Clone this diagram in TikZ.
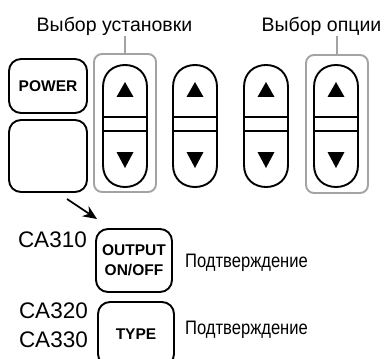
\documentclass[tikz,border=0pt]{standalone}
\usepackage{fontspec}
\setmainfont{Liberation Sans}
\newfontfamily\ingust[FakeStretch=0.85]{Liberation Sans}
\usetikzlibrary{positioning,arrows.meta,calc}
\definecolor{gri}{gray}{0.64}
\tikzset{
  buton/.style    = {draw, line width=1.9pt, rounded corners=12pt, align=center,
                     inner sep=0pt, font=\fontsize{15.5}{20}\selectfont\bfseries},
  capsula/.style  = {draw, line width=1.9pt},
  loc/.style      = {inner sep=0pt, minimum width=44pt, minimum height=122pt},
  grup/.style     = {draw=gri, line width=1.9pt, rounded corners=8pt, inner sep=0pt,
                     minimum width=62pt, minimum height=138pt},
  eticheta/.style = {font=\fontsize{19.5}{23}\selectfont, inner sep=0pt},
  confirm/.style  = {font=\ingust\fontsize{19.5}{23}\selectfont, inner sep=0pt},
  model/.style    = {font=\fontsize{22.5}{26}\selectfont, inner sep=0pt},
  sageata/.style  = {-{Stealth[length=14pt,width=12pt]}, line width=1.8pt}
}

\begin{document}
\begin{tikzpicture}[x=1pt, y=-1pt]
  \useasboundingbox (0,0) rectangle (387,358);
  \clip (0,0) rectangle (387,358);

  % butoanele din stanga
  \node[buton, minimum width=78pt, minimum height=54pt] (power) at (48,86) {POWER};
  \node[buton, minimum width=78pt, minimum height=72pt] (gol) at (48,156) {};

  % capsulele cu sageti
  \node[loc] (c1) at (125,126) {};
  \node[loc] (c2) at (195,126) {};
  \node[loc] (c3) at (266,126) {};
  \node[loc] (c4) at (336,126) {};
  \foreach \c in {c1,c2,c3,c4} {
    \draw[capsula, shift={(\c.center)}]
      (-22,0) -- (-22,-39) .. controls (-22,-53) and (-12,-61) .. (0,-61)
      .. controls (12,-61) and (22,-53) .. (22,-39) -- (22,39)
      .. controls (22,53) and (12,61) .. (0,61)
      .. controls (-12,61) and (-22,53) .. (-22,39) -- cycle;
    \draw[capsula, shift={(\c.center)}] (-22,-9) -- (22,-9) (-22,5) -- (22,5);
    \fill[shift={(\c.center)}] (-8.5,-29) -- (8.5,-29) -- (0,-44) -- cycle;
    \fill[shift={(\c.center)}] (-8.5,26) -- (8.5,26) -- (0,42) -- cycle;
  }

  % grupurile
  \node[grup] (g1) at (125,123) {};
  \node[grup] (g4) at (337,124) {};
  \node[eticheta, anchor=base] (lset) at (114.5,31.7) {Выбор установки};
  \node[eticheta, anchor=base] (lopt) at (321.5,31.7) {Выбор опции};
  \draw[gri, line width=1.9pt] (g1.north |- lset.south) -- (g1.north);
  \draw[gri, line width=1.9pt] (g4.north |- lopt.south) -- (g4.north);

  % sageata
  \coordinate (s1) at (67,199);
  \coordinate (s2) at (97,219);
  \draw[sageata] (s1) -- (s2);

  % butoanele de jos
  \node[buton, minimum width=76pt, minimum height=63pt] (out) at (134,260.5) {OUTPUT\\ON/OFF};
  \node[buton, minimum width=76pt, minimum height=64pt] (type) at (136,334) {TYPE};

  \node[model, anchor=base east] (ca310) at (87,247) {CA310};
  \node[model, anchor=base east] (ca320) at (88,318) {CA320};
  \node[model, anchor=base east] (ca330) at (88,347) {CA330};
  \node[confirm, anchor=base west] (conf1) at (185,267) {Подтверждение};
  \node[confirm, anchor=base west] (conf2) at (185,334) {Подтверждение};
\end{tikzpicture}
\end{document}
